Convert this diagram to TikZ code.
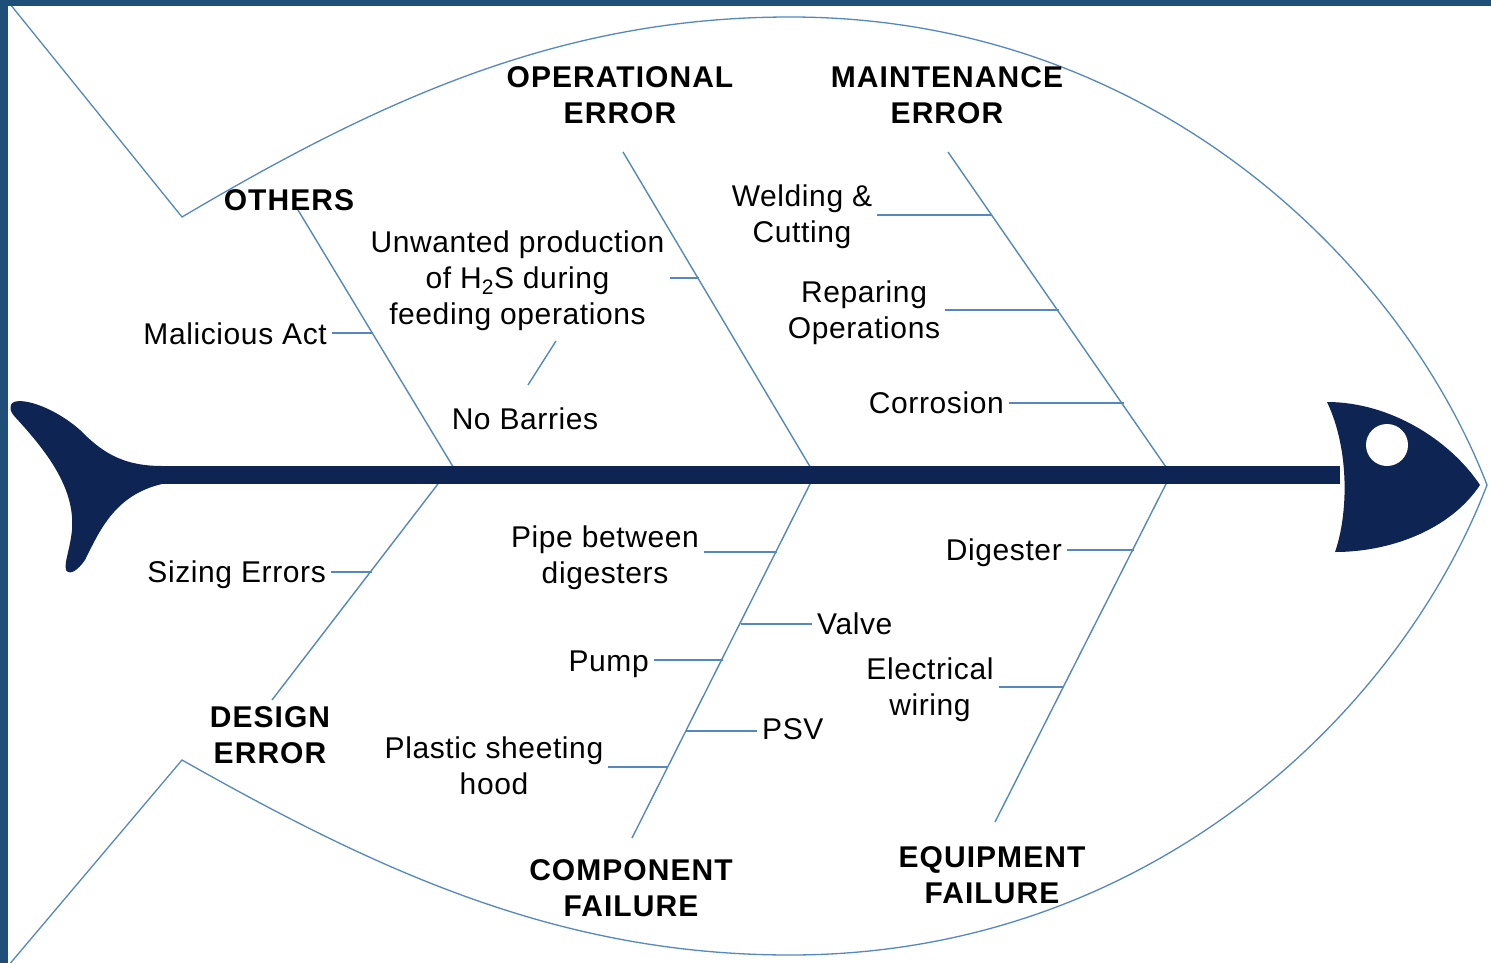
\documentclass[tikz,border=0pt]{standalone}
\usepackage{fontspec}
\setmainfont{Liberation Sans}[LetterSpace=2]
\usetikzlibrary{calc}
\definecolor{navy}{RGB}{14,36,82}
\definecolor{framec}{RGB}{31,78,121}
\definecolor{bonec}{RGB}{84,136,190}
\begin{document}
\begin{tikzpicture}[x=1pt,y=-1pt,
  lbl/.style={font=\fontsize{30}{36}\selectfont, inner xsep=5pt, inner ysep=0pt, align=center},
  one/.style={text height=22pt, text depth=0pt},
  head/.style={font=\bfseries\addfontfeatures{LetterSpace=3.5}\fontsize{30}{36}\selectfont, inner sep=0pt, align=center},
  bone/.style={draw=bonec, line width=1.4pt},
  outline/.style={draw=bonec, line width=1.3pt},
  navyfill/.style={fill=navy, draw=none}]
\useasboundingbox (0,0) rectangle (1491,963);
\fill[white] (0,0) rectangle (1491,963);

% ---------- fish outline ----------
\coordinate (tl) at (10,4);
\coordinate (tk) at (182,217);
\coordinate (top) at (790,17);
\coordinate (bk) at (182,760);
\coordinate (bot) at (790,955);
\coordinate (bl) at (8,966);
\coordinate (nose) at (1487,485);
\draw[outline] (tl) -- (tk) .. controls (380,100) and (560,17) .. (top)
  .. controls (1150,17) and (1400,260) .. (nose);
\draw[outline] (bl) -- (bk) .. controls (380,872) and (560,955) .. (bot)
  .. controls (1150,955) and (1400,712) .. (nose);

% ---------- headings ----------
\node[head, one] (others) at (289,199) {OTHERS};
\node[head] (oper) at (620,95.5) {OPERATIONAL\\ERROR};
\node[head] (maint) at (947,95.5) {MAINTENANCE\\ERROR};
\node[head] (design) at (270,735.5) {DESIGN\\ERROR};
\node[head] (comp) at (631,888.5) {COMPONENT\\FAILURE};
\node[head] (equip) at (992,875.5) {EQUIPMENT\\FAILURE};

% ---------- labels ----------
\node[lbl, one, anchor=east] (mal) at (332,333) {Malicious Act};
\node[lbl] (unw) at (517.5,281) {Unwanted production\\of H\textsubscript{2}S during\\feeding operations};
\node[lbl, one] (nobar) at (525,418) {No Barries};
\node[lbl] (weld) at (802,217) {Welding \&\\Cutting};
\node[lbl] (rep) at (864,313) {Reparing\\Operations};
\node[lbl, one, anchor=east] (corr) at (1009,402) {Corrosion};
\node[lbl, one, anchor=east] (siz) at (331,571) {Sizing Errors};
\node[lbl] (pipe) at (605,558) {Pipe between\\digesters};
\node[lbl, one, anchor=west] (valve) at (812,623) {Valve};
\node[lbl, one, anchor=east] (pump) at (654,660) {Pump};
\node[lbl, one, anchor=west] (psv) at (757,728) {PSV};
\node[lbl] (plast) at (494,766) {Plastic sheeting\\hood};
\node[lbl, one, anchor=east] (dig) at (1067,549) {Digester};
\node[lbl] (elec) at (930,690) {Electrical\\wiring};

% ---------- main bones ----------
\coordinate (b1s) at (455,470); \coordinate (b1e) at (298,210);
\coordinate (b2s) at (812,470); \coordinate (b2e) at (623,152);
\coordinate (b3s) at (1168,470); \coordinate (b3e) at (948,152);
\coordinate (b4s) at (441,480); \coordinate (b4e) at (272,700);
\coordinate (b5s) at (812,480); \coordinate (b5e) at (632,838);
\coordinate (b6s) at (1168,480); \coordinate (b6e) at (995,822);
\draw[bone] (b1s) -- (b1e);
\draw[bone] (b2s) -- (b2e);
\draw[bone] (b3s) -- (b3e);
\draw[bone] (b4s) -- (b4e);
\draw[bone] (b5s) -- (b5e);
\draw[bone] (b6s) -- (b6e);

% ---------- junctions on bones ----------
\coordinate (jmal) at (373.4,333);
\coordinate (junw) at (698.8,278);
\coordinate (jweld) at (992.1,215);
\coordinate (jrep) at (1058.7,310);
\coordinate (jcorr) at (1123.9,403);
\coordinate (jsiz) at (372.1,572);
\coordinate (jpipe) at (777.4,552);
\coordinate (jvalve) at (740.8,624);
\coordinate (jpump) at (722.5,660);
\coordinate (jpsv) at (686.4,731);
\coordinate (jplast) at (668.1,767);
\coordinate (jdig) at (1134.2,550);
\coordinate (jelec) at (1064.1,687);
\coordinate (nb1) at (528,385);
\coordinate (nb2) at (556,341);

\draw[bone] (jmal -| mal.east) -- (jmal);
\draw[bone] (junw -| unw.east) -- (junw);
\draw[bone] (jweld -| weld.east) -- (jweld);
\draw[bone] (jrep -| rep.east) -- (jrep);
\draw[bone] (jcorr -| corr.east) -- (jcorr);
\draw[bone] (jsiz -| siz.east) -- (jsiz);
\draw[bone] (jpipe -| pipe.east) -- (jpipe);
\draw[bone] (jvalve) -- (jvalve -| valve.west);
\draw[bone] (jpump -| pump.east) -- (jpump);
\draw[bone] (jpsv) -- (jpsv -| psv.west);
\draw[bone] (jplast -| plast.east) -- (jplast);
\draw[bone] (jdig -| dig.east) -- (jdig);
\draw[bone] (jelec -| elec.east) -- (jelec);
\draw[bone] (nb1) -- (nb2);

% ---------- spine, tail, head ----------
\fill[navyfill] (150,466) rectangle (1340,484);
\fill[navyfill] (162,466) .. controls (120,466) and (100,450) .. (80,430)
  .. controls (55,408) and (25,398) .. (14,402)
  .. controls (8,405) and (10,412) .. (16,418)
  .. controls (50,455) and (75,490) .. (72,530)
  .. controls (70,550) and (64,562) .. (66,570)
  .. controls (70,576) and (78,570) .. (85,560)
  .. controls (100,530) and (115,495) .. (162,484) -- cycle;
\fill[navyfill] (1327,402) .. controls (1390,402) and (1450,440) .. (1480,485)
  .. controls (1450,530) and (1390,552) .. (1335,552)
  .. controls (1348,515) and (1350,450) .. (1327,402) -- cycle;
\fill[white] (1387,445) circle[radius=21];

% ---------- frame ----------
\fill[framec] (0,0) rectangle (1491,6);
\fill[framec] (0,0) rectangle (8,963);
\end{tikzpicture}
\end{document}
